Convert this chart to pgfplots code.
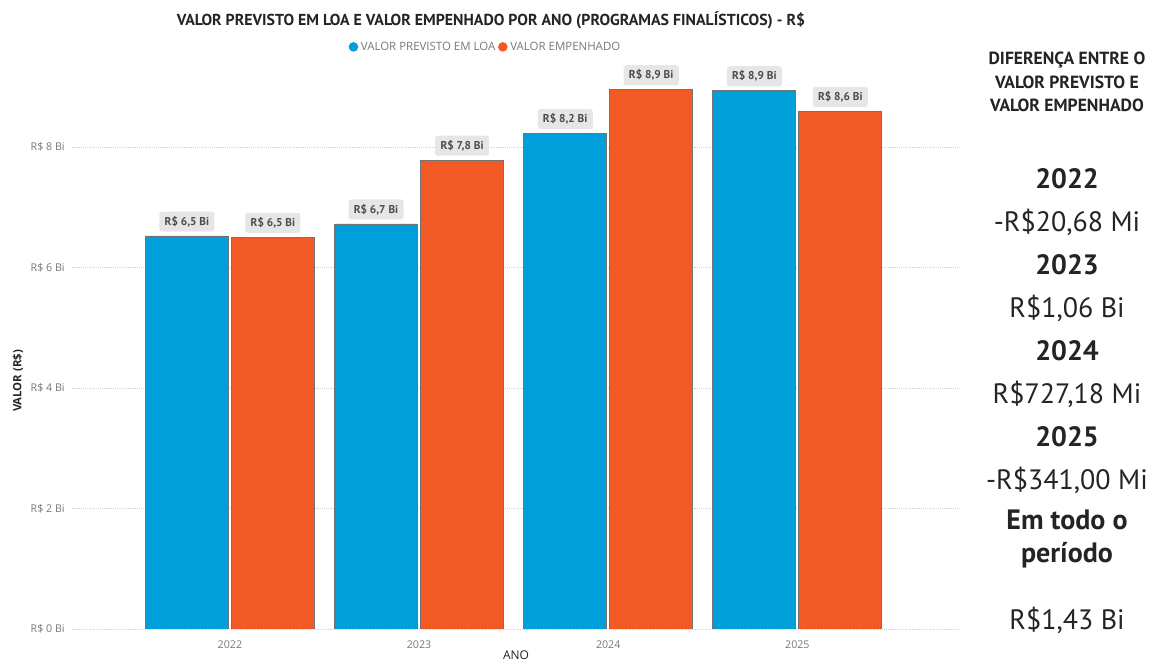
\documentclass[border=0pt]{standalone}
\usepackage{pgfplots}
\pgfplotsset{compat=1.18}
\usepackage{fontspec}
\setmainfont{Open Sans}
\newfontfamily\din{PT Sans}
\definecolor{cblue}{HTML}{009FDA}
\definecolor{corange}{HTML}{F15A24}
\definecolor{ctick}{HTML}{777777}
\definecolor{cdark}{HTML}{252423}
\definecolor{clab}{HTML}{E6E6E6}

\begin{document}
\begin{tikzpicture}
% pixel frame: (px,py) of the reference, y downwards
\begin{scope}[shift={(-54pt,471.75pt)}, x=0.75pt, y=-0.75pt]
  \path[use as bounding box] (0,0) rectangle (1154,661);
  \node[font=\din\bfseries\fontsize{11.9}{13}\selectfont, text=cdark] at (491,20)
    {VALOR PREVISTO EM LOA E VALOR EMPENHADO POR ANO (PROGRAMAS FINALÍSTICOS) - R\$};
  \node[rotate=90, font=\bfseries\fontsize{8.5}{9}\selectfont, text=cdark] at (18,381) {VALOR (R\$)};
  \node[font=\fontsize{9}{10}\selectfont, text=cdark] at (516,655) {ANO};
  \begin{scope}[text=cdark]
    \node[font=\din\bfseries\fontsize{13.2}{17.5}\selectfont, align=center] at (1067,82)
      {DIFERENÇA ENTRE O\\VALOR PREVISTO E\\VALOR EMPENHADO};
    \node[font=\din\bfseries\fontsize{21}{24}\selectfont] at (1067,179) {2022};
    \node[font=\din\fontsize{21}{24}\selectfont] at (1067,222) {-R\$20,68 Mi};
    \node[font=\din\bfseries\fontsize{21}{24}\selectfont] at (1067,265) {2023};
    \node[font=\din\fontsize{21}{24}\selectfont] at (1067,308) {R\$1,06 Bi};
    \node[font=\din\bfseries\fontsize{21}{24}\selectfont] at (1067,351) {2024};
    \node[font=\din\fontsize{21}{24}\selectfont] at (1067,394) {R\$727,18 Mi};
    \node[font=\din\bfseries\fontsize{21}{24}\selectfont] at (1067,437) {2025};
    \node[font=\din\fontsize{21}{24}\selectfont] at (1067,480) {-R\$341,00 Mi};
    \node[font=\din\bfseries\fontsize{21}{24}\selectfont, align=center] at (1067,539) {Em todo o\\período};
    \node[font=\din\fontsize{21}{24}\selectfont] at (1067,620) {R\$1,43 Bi};
  \end{scope}
\end{scope}

\begin{axis}[
  scale only axis,
  width=666pt, height=426.75pt,
  xmin=-0.835, xmax=3.86,
  ymin=0, ymax=9.44,
  ybar=2.25pt,
  bar width=62.25pt,
  axis line style={draw=none},
  major tick style={draw=none},
  xtick={0,1,2,3},
  xticklabels={2022,2023,2024,2025},
  ytick={0,2,4,6,8},
  yticklabels={R\$ 0 Bi,R\$ 2 Bi,R\$ 4 Bi,R\$ 6 Bi,R\$ 8 Bi},
  ymajorgrids,
  grid style={densely dotted, gray!35},
  tick label style={font=\fontsize{8}{9}\selectfont, text=ctick},
  yticklabel style={xshift=-2pt},
  xticklabel style={yshift=-1pt},
  /pgf/number format/assume math mode=true,
  nodes near coords={R\$ \pgfmathprintnumber[fixed,fixed zerofill,precision=1,use comma,assume math mode=true]{\pgfplotspointmeta} Bi},
  every node near coord/.append style={font=\din\bfseries\fontsize{8.5}{9}\selectfont,
    text=black!70, fill=clab, rounded corners=2pt, inner xsep=4pt, inner ysep=3.5pt,
    anchor=south, yshift=3pt},
  legend style={draw=none, fill=none, at={(0.466,1.023)}, anchor=center,
    legend columns=2, font=\fontsize{8.6}{9}\selectfont, text=ctick,
    /tikz/every odd column/.style={column sep=0pt}},
  legend image code/.code={\fill[#1, draw=none] (0.14cm,0) circle (3.6pt);},
  legend cell align=left,
]
\addplot[fill=cblue, draw=black!55, line width=0.6pt] coordinates
  {(0,6.520) (1,6.720) (2,8.220) (3,8.930)};
\addplot[fill=corange, draw=black!55, line width=0.6pt] coordinates
  {(0,6.499) (1,7.780) (2,8.947) (3,8.589)};
\legend{VALOR PREVISTO EM LOA,VALOR EMPENHADO}
\end{axis}
\end{tikzpicture}
\end{document}
